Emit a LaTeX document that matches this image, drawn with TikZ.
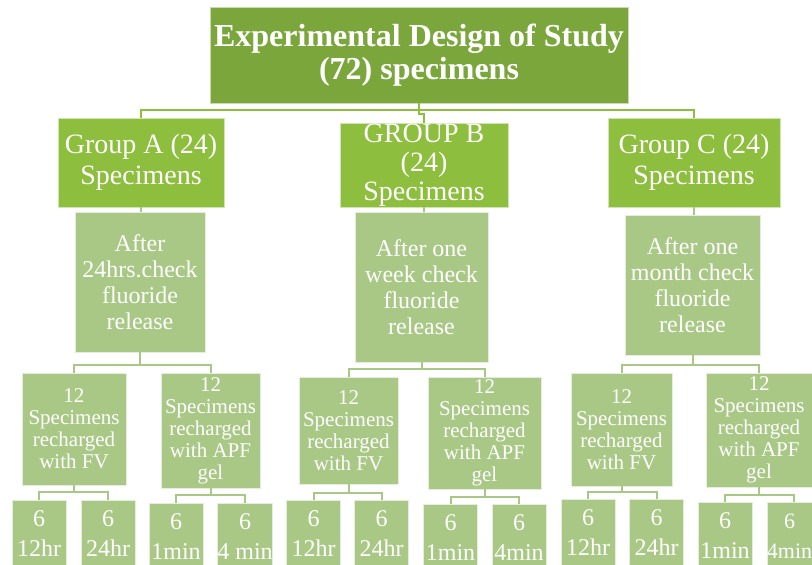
\documentclass[tikz,border=0pt]{standalone}
\usepackage{fontspec}
\setmainfont{Liberation Serif}
\definecolor{topgreen}{RGB}{122,166,60}
\definecolor{groupgreen}{RGB}{141,190,62}
\definecolor{palegreen}{RGB}{169,200,134}
\begin{document}
\begin{tikzpicture}[x=1pt,y=-1pt,
  box/.style={rectangle,inner sep=0pt,align=center,text=white,draw=white!70!palegreen,line width=0.6pt},
  titlebox/.style={box,fill=topgreen,draw=white!60!topgreen,font=\fontsize{32}{33}\selectfont\bfseries},
  groupbox/.style={box,fill=groupgreen,draw=white!60!groupgreen,font=\fontsize{28}{31}\selectfont},
  checkbox/.style={box,fill=palegreen,font=\fontsize{24}{26}\selectfont},
  rechbox/.style={box,fill=palegreen,font=\fontsize{21}{22}\selectfont},
  leafbox/.style={box,fill=palegreen,font=\fontsize{24}{30}\selectfont,
    minimum width=54pt,minimum height=70pt,text depth=2pt},
  topconn/.style={draw=groupgreen,line width=2pt},
  conn/.style={draw=palegreen,line width=2pt}]
\useasboundingbox (0,0) rectangle (812,565);

% root
\node[titlebox,minimum width=418pt,minimum height=96pt] (root) at (419,55)
  {Experimental Design of Study\\(72) specimens};

% groups
\node[groupbox,minimum width=166pt,minimum height=89pt] (gA) at (141,162.5)
  {Group A (24)\\Specimens};
\node[groupbox,minimum width=168pt,minimum height=84pt,font=\fontsize{28}{29}\selectfont] (gB) at (424,165)
  {GROUP B\\(24)\\Specimens};
\node[groupbox,minimum width=172pt,minimum height=89pt] (gC) at (694,162.5)
  {Group C (24)\\Specimens};

% fluoride release checks
\node[checkbox,minimum width=130pt,minimum height=140pt] (tA) at (140,282)
  {After\\24hrs.check\\fluoride\\release};
\node[checkbox,minimum width=133pt,minimum height=150pt] (tB) at (421.5,287)
  {After one\\week check\\fluoride\\release};
\node[checkbox,minimum width=135pt,minimum height=140pt] (tC) at (692.5,285)
  {After one\\month check\\fluoride\\release};

% recharge groups
\node[rechbox,minimum width=104pt,minimum height=112pt] (aFV) at (74,429)
  {12\\Specimens\\recharged\\with FV};
\node[rechbox,minimum width=99pt,minimum height=115pt] (aAPF) at (210.5,430.5)
  {12\\Specimens\\recharged\\with APF\\gel};
\node[rechbox,minimum width=99pt,minimum height=107pt] (bFV) at (348.5,430.5)
  {12\\Specimens\\recharged\\with FV};
\node[rechbox,minimum width=113pt,minimum height=112pt] (bAPF) at (484.5,433)
  {12\\Specimens\\recharged\\with APF\\gel};
\node[rechbox,minimum width=101pt,minimum height=113pt] (cFV) at (621.5,429.5)
  {12\\Specimens\\recharged\\with FV};
\node[rechbox,minimum width=106pt,minimum height=114pt] (cAPF) at (759,430)
  {12\\Specimens\\recharged\\with APF\\gel};

% leaves
\node[leafbox] (a1) at (39,535) {6\\12hr};
\node[leafbox] (a2) at (108,535) {6\\24hr};
\node[leafbox] (a3) at (176,538) {6\\1min};
\node[leafbox] (a4) at (245,538) {6\\4 min};
\node[leafbox] (b1) at (313.5,535) {6\\12hr};
\node[leafbox] (b2) at (381.5,535) {6\\24hr};
\node[leafbox] (b3) at (450.5,539) {6\\1min};
\node[leafbox] (b4) at (519,539) {6\\4min};
\node[leafbox] (c1) at (588,534) {6\\12hr};
\node[leafbox] (c2) at (656.5,534) {6\\24hr};
\node[leafbox] (c3) at (725,537) {6\\1min};
\node[leafbox,minimum width=45pt,font=\fontsize{22}{30}\selectfont] (c4) at (789.5,537) {6\\4min};

% root to groups
\coordinate (busTop) at (419,110);
\draw[topconn] (root.south) -- (busTop);
\draw[topconn] (busTop) -| (gA.north);
\draw[topconn] (busTop) -| (gC.north);
\draw[topconn] (busTop) -- ++(0,4) -| (gB.north);

% groups to checks
\draw[conn] (gA.south) -- (gA.south |- tA.north);
\draw[conn] (gB.south) -- (gB.south |- tB.north);
\draw[conn] (gC.south) -- (gC.south |- tC.north);

% checks to recharge groups
\coordinate (busA) at (140,365);
\coordinate (busB) at (421.5,369);
\coordinate (busC) at (692.5,365);
\draw[conn] (tA.south) -- (busA) -| (aFV.north);
\draw[conn] (busA) -| (aAPF.north);
\draw[conn] (tB.south) -- (busB) -| (bFV.north);
\draw[conn] (busB) -| (bAPF.north);
\draw[conn] (tC.south) -- (busC) -| (cFV.north);
\draw[conn] (busC) -| (cAPF.north);

% recharge groups to leaves
\coordinate (c4top) at (794,502);
\foreach \p/\l/\r/\yb in {aFV/a1/a2.north/492,aAPF/a3/a4.north/495,bFV/b1/b2.north/493,bAPF/b3/b4.north/497,cFV/c1/c2.north/492,cAPF/c3/c4top/495}{
  \draw[conn] (\p.south) -- (\p.south |- 0,\yb) coordinate (m);
  \draw[conn] (m) -| (\l.north);
  \draw[conn] (m) -| (\r);
}
\end{tikzpicture}
\end{document}
